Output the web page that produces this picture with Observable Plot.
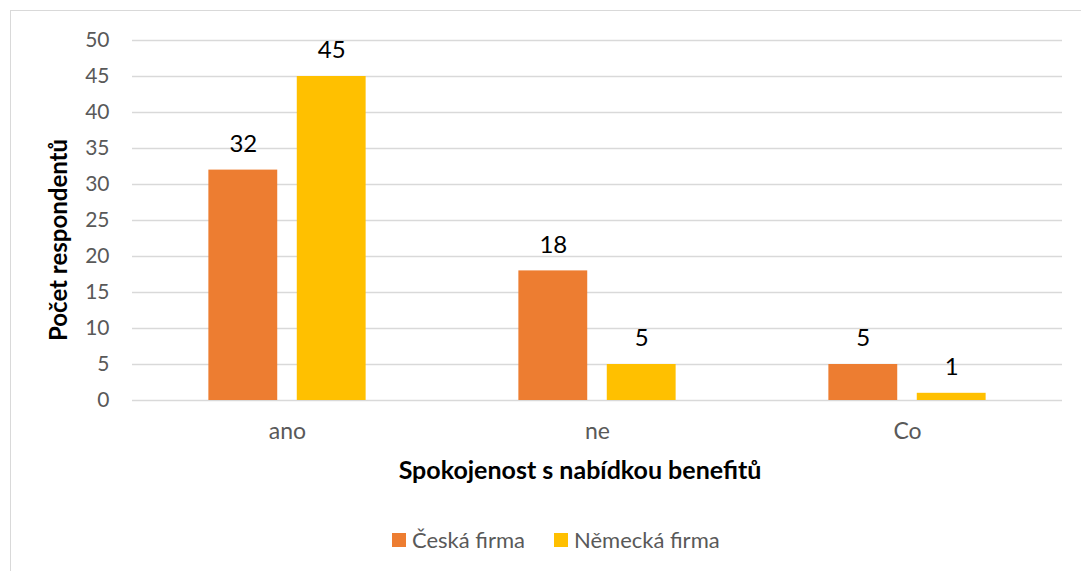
<!DOCTYPE html>
<html>
<head>
<meta charset="utf-8">
<script src="https://cdn.jsdelivr.net/npm/d3@7"></script>
<script src="https://cdn.jsdelivr.net/npm/@observablehq/plot@0.6"></script>
<style>
  html, body { margin: 0; padding: 0; background: #fff; overflow: hidden; }
  #wrap { position: relative; width: 1081px; height: 571px; font-family: Lato, "Open Sans", sans-serif; }
  #frame { position: absolute; left: 10px; top: 10px; width: 1200px; height: 700px; border: 1px solid #d9d9d9; box-sizing: border-box; }
  #chart { position: absolute; left: 0; top: 0; }
  .ytitle { position: absolute; left: 57px; top: 240px; transform: translate(-50%, -50%) rotate(-90deg); white-space: nowrap; font-weight: bold; font-size: 24px; color: #000; }
  .xtitle { position: absolute; left: 580px; top: 469px; transform: translate(-50%, -50%); white-space: nowrap; font-weight: bold; font-size: 25px; color: #000; }
  .legend { position: absolute; left: 392px; top: 526px; display: flex; align-items: center; font-size: 22px; color: #595959; white-space: nowrap; }
  .legend .item { display: flex; align-items: center; }
  .legend .item + .item { margin-left: 29px; }
  .legend .sw { width: 14px; height: 14px; margin-right: 6px; }
</style>
</head>
<body>
<div id="wrap">
  <div id="frame"></div>
  <div id="chart"></div>
  <div class="ytitle" id="ytitle"></div>
  <div class="xtitle" id="xtitle"></div>
  <div class="legend" id="legend"></div>
</div>
<script>
const categories = ["ano", "ne", "Co"];
const series = ["Česká firma", "Německá firma"];
const ceskaValues = [32, 18, 5];
const nemeckaValues = [45, 5, 1];
const seriesColors = ["#ED7D31", "#FFC000"];
const yTicks = [0, 5, 10, 15, 20, 25, 30, 35, 40, 45, 50];
const yTitle = "Počet respondentů";
const xTitle = "Spokojenost s nabídkou benefitů";

const seriesValues = [ceskaValues, nemeckaValues];
const rows = [];
categories.forEach((c, i) => {
  series.forEach((s, j) => rows.push({ category: c, series: s, value: seriesValues[j][i] }));
});

const chart = Plot.plot({
  width: 1081,
  height: 571,
  marginLeft: 131,
  marginRight: 18,
  marginTop: 40,
  marginBottom: 171,
  style: { fontFamily: "Lato, 'Open Sans', sans-serif", fontSize: "21px", color: "#595959", background: "transparent", overflow: "visible" },
  fx: { domain: categories, padding: 0, label: null },
  x: { domain: series, paddingInner: 0.221, paddingOuter: 0.864, axis: null, round: false },
  y: { domain: [0, 50], label: null },
  color: { domain: series, range: seriesColors },
  marks: [
    Plot.gridY(yTicks, { stroke: "#d9d9d9", strokeOpacity: 1, strokeWidth: 1.3 }),
    Plot.axisY(yTicks, { anchor: "left", tickSize: 0, tickPadding: 23, fontSize: 21, label: null }),
    Plot.axisFx({ anchor: "bottom", tickSize: 0, tickPadding: 22, fontSize: 23, label: null }),
    Plot.barY(rows, { fx: "category", x: "series", y: "value", fill: "series" }),
    Plot.text(rows, { fx: "category", x: "series", y: "value", text: d => String(d.value), dy: -26, fontSize: 24, fill: "#000" })
  ]
});
document.getElementById("chart").appendChild(chart);

document.getElementById("ytitle").textContent = yTitle;
document.getElementById("xtitle").textContent = xTitle;
const legend = document.getElementById("legend");
series.forEach((s, i) => {
  const item = document.createElement("div");
  item.className = "item";
  const sw = document.createElement("span");
  sw.className = "sw";
  sw.style.background = seriesColors[i];
  const label = document.createElement("span");
  label.textContent = s;
  item.appendChild(sw);
  item.appendChild(label);
  legend.appendChild(item);
});
</script>
</body>
</html>
